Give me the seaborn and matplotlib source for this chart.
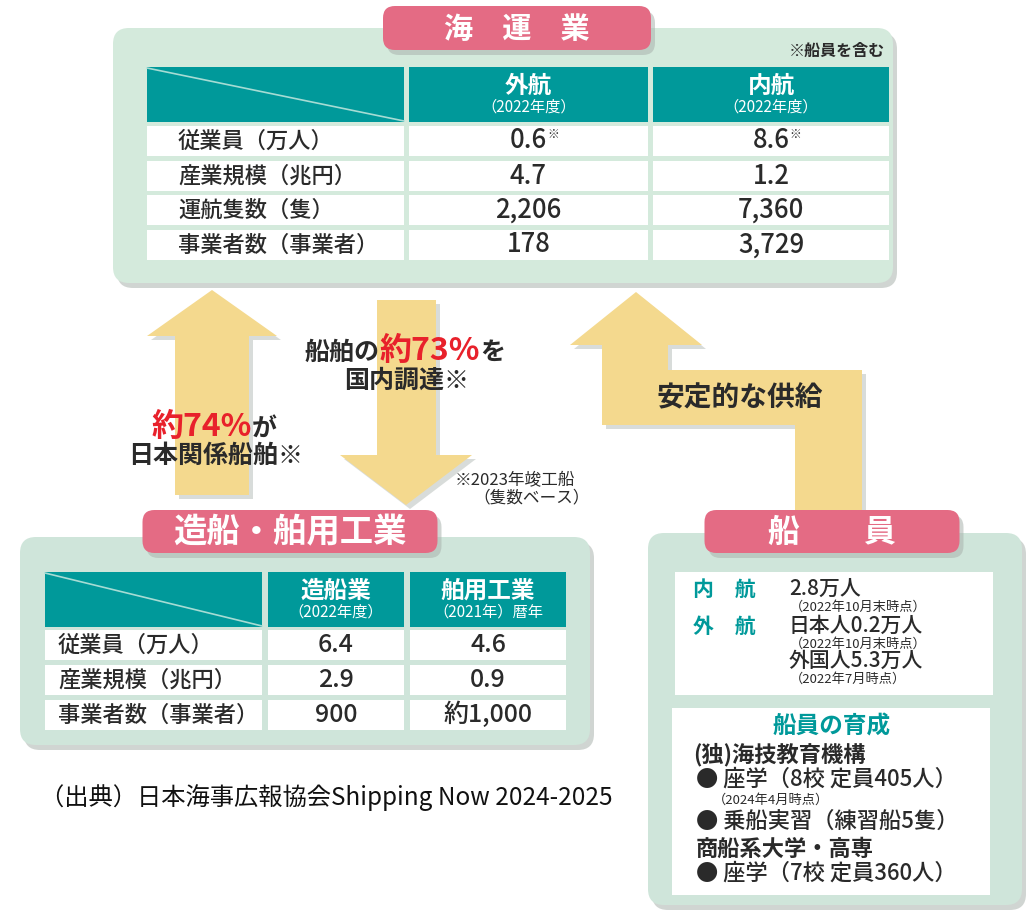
import matplotlib.pyplot as plt
import seaborn as sns
from matplotlib.patches import FancyBboxPatch, Rectangle, Polygon

sns.set_theme(style="white")
plt.rcParams['font.family'] = ['Noto Sans CJK JP', 'DejaVu Sans']

# ---- data -------------------------------------------------------------
kaiun_title = "海　運　業"
kaiun_cols = ["外航", "内航"]
kaiun_col_years = ["（2022年度）", "（2022年度）"]
kaiun_rows = ["従業員（万人）", "産業規模（兆円）", "運航隻数（隻）", "事業者数（事業者）"]
kaiun_gaiko = ["0.6", "4.7", "2,206", "178"]
kaiun_naiko = ["8.6", "1.2", "7,360", "3,729"]
kaiun_marks = ["※", "", "", ""]
kaiun_note = "※船員を含む"

zosen_title = "造船・舶用工業"
zosen_cols = ["造船業", "舶用工業"]
zosen_col_years = ["（2022年度）", "（2021年）暦年"]
zosen_rows = ["従業員（万人）", "産業規模（兆円）", "事業者数（事業者）"]
zosen_zosen = ["6.4", "2.9", "900"]
zosen_hakuyo = ["4.6", "0.9", "約1,000"]

senin_title = "船　　員"
senin_kinds = ["内　航", "外　航", ""]
senin_counts = ["2.8万人", "日本人0.2万人", "外国人5.3万人"]
senin_dates = ["（2022年10月末時点）", "（2022年10月末時点）", "（2022年7月時点）"]
ikusei_title = "船員の育成"
ikusei_lines = ["(独)海技教育機構", "● 座学（8校 定員405人）", "（2024年4月時点）",
                "● 乗船実習（練習船5隻）", "商船系大学・高専", "● 座学（7校 定員360人）"]

flow_73 = [("船舶の", "k"), ("約73%", "r"), ("を", "k")]
flow_73b = "国内調達※"
flow_74 = [("約74%", "r"), ("が", "k")]
flow_74b = "日本関係船舶※"
flow_supply = "安定的な供給"
flow_note = ["※2023年竣工船", "（隻数ベース）"]
source = "（出典）日本海事広報協会Shipping Now 2024-2025"

# ---- style ------------------------------------------------------------
PANEL = "#d4eadc"
PANEL2 = "#cfe5da"
PINK = "#e46b84"
TEAL = "#00999a"
ARROW = "#f4d98e"
SHADOW = "#aab3ae"
INK = "#2a2a2a"
RED = "#e8212b"

W, H = 1032, 911
fig = plt.figure(figsize=(W / 100, H / 100), dpi=100)
ax = fig.add_axes([0, 0, 1, 1])
ax.set_xlim(0, W)
ax.set_ylim(H, 0)
ax.axis('off')
renderer = fig.canvas.get_renderer()


def rbox(x, y, w, h, fc, r=14, z=2, shadow=True):
    if shadow:
        ax.add_patch(FancyBboxPatch((x + 4, y + 5), w, h, boxstyle=f"round,pad=0,rounding_size={r}",
                                    fc=SHADOW, ec='none', alpha=0.55, zorder=z - 0.5))
    ax.add_patch(FancyBboxPatch((x, y), w, h, boxstyle=f"round,pad=0,rounding_size={r}",
                                fc=fc, ec='none', zorder=z))


def label(cx, y, w, h, text, fs):
    rbox(cx - w / 2, y, w, h, PINK, r=12, z=6)
    ax.text(cx, y + h / 2 + 1, text, color='white', fontsize=fs, fontweight='bold',
            ha='center', va='center', zorder=7)


def arrow(points):
    ax.add_patch(Polygon([(x + 4, y + 4) for x, y in points], closed=True, fc=SHADOW,
                         ec='none', alpha=0.45, zorder=2.5))
    ax.add_patch(Polygon(points, closed=True, fc=ARROW, ec='none', zorder=3))


def rich(cx, y, parts, sizes):
    arts = []
    for (txt, c), s in zip(parts, sizes):
        t = ax.text(0, y, txt, color=RED if c == 'r' else INK, fontsize=s, fontweight='bold',
                    ha='left', va='baseline', zorder=8)
        arts.append(t)
    widths = [a.get_window_extent(renderer).width for a in arts]
    x = cx - sum(widths) / 2
    for a, w in zip(arts, widths):
        a.set_x(x)
        x += w


def table(cols, years, rows, vals, marks, col_x, hdr, row_tops, rh, label_x, fs, vfs):
    for x0, x1 in col_x:
        ax.add_patch(Rectangle((x0, hdr[0]), x1 - x0, hdr[1] - hdr[0], fc=TEAL, ec='none', zorder=4))
        for top in row_tops:
            ax.add_patch(Rectangle((x0, top), x1 - x0, rh, fc='white', ec='none', zorder=4))
    ax.plot([col_x[0][0], col_x[0][1]], [hdr[0] + 1, hdr[1] - 1], color="#a6dcd4", lw=1.2, zorder=5)
    for (x0, x1), c, yr in zip(col_x[1:], cols, years):
        cx = (x0 + x1) / 2
        ax.text(cx, hdr[0] + 19, c, color='white', fontsize=17, fontweight='bold',
                ha='center', va='center', zorder=5)
        ax.text(cx, hdr[0] + 40, yr, color='white', fontsize=11, ha='center', va='center', zorder=5)
    for i, (top, r) in enumerate(zip(row_tops, rows)):
        cy = top + rh / 2
        ax.text(label_x, cy, r, color=INK, fontsize=fs, fontweight='medium', ha='left', va='center', zorder=5)
        for (x0, x1), v in zip(col_x[1:], vals):
            cx = (x0 + x1) / 2
            t = ax.text(cx, cy, v[i], color=INK, fontsize=vfs, fontweight='medium',
                        ha='center', va='center', zorder=5)
            if marks and marks[i]:
                w = t.get_window_extent(renderer).width
                ax.text(cx + w / 2, cy - 6, marks[i], color=INK, fontsize=8.5,
                        ha='left', va='center', zorder=5)


# ---- arrows -----------------------------------------------------------
arrow([(212, 290), (277, 336), (249, 336), (249, 495), (175, 495), (175, 336), (147, 336)])
arrow([(377, 300), (436, 300), (436, 455), (472, 455), (406, 505), (340, 455), (377, 455)])
arrow([(636, 292), (702, 345), (668, 345), (668, 370), (862, 370), (862, 512),
       (795, 512), (795, 425), (602, 425), (602, 345), (570, 345)])

rich(405, 360, flow_73, [18, 23, 18])
ax.text(407, 381, flow_73b, color=INK, fontsize=18, fontweight='bold', ha='center', va='center', zorder=8)
rich(214, 436, flow_74, [23, 18])
ax.text(216, 456, flow_74b, color=INK, fontsize=18, fontweight='bold', ha='center', va='center', zorder=8)
ax.text(740, 398, flow_supply, color=INK, fontsize=20, fontweight='bold', ha='center', va='center', zorder=8)
ax.text(455, 481, flow_note[0], color=INK, fontsize=12, ha='left', va='center', zorder=8)
ax.text(532, 498, flow_note[1], color=INK, fontsize=12, ha='center', va='center', zorder=8)

# ---- 海運業 panel ------------------------------------------------------
rbox(113, 28, 780, 255, PANEL, r=16)
label(517, 6, 268, 44, kaiun_title, 21)
ax.text(885, 51, kaiun_note, color=INK, fontsize=11.5, fontweight='bold', ha='right', va='center', zorder=5)
table(kaiun_cols, kaiun_col_years, kaiun_rows, [kaiun_gaiko, kaiun_naiko], kaiun_marks,
      [(147, 404), (409, 648), (653, 889)], (67, 122), [126, 161, 195, 230], 30, 178, 16, 18.5)

# ---- 造船・舶用工業 panel ----------------------------------------------
rbox(20, 537, 570, 208, PANEL2, r=16)
label(290, 510, 295, 43, zosen_title, 24)
table(zosen_cols, zosen_col_years, zosen_rows, [zosen_zosen, zosen_hakuyo], None,
      [(45, 262), (268, 404), (410, 566)], (572, 627), [630, 665, 700], 30, 58, 16, 18)

ax.text(40, 798, source, color="#111111", fontsize=17.5, ha='left', va='center', zorder=5)

# ---- 船員 panel ---------------------------------------------------------
rbox(648, 533, 374, 372, PANEL2, r=16)
label(832, 510, 255, 43, senin_title, 23)
ax.add_patch(Rectangle((675, 572), 318, 123, fc='white', ec='none', zorder=4))
ax.add_patch(Rectangle((672, 708), 318, 187, fc='white', ec='none', zorder=4))

count_y = [589, 626, 661]
for k, c, d, y in zip(senin_kinds, senin_counts, senin_dates, count_y):
    if k:
        ax.text(693, y, k, color=TEAL, fontsize=15, fontweight='bold', ha='left', va='center', zorder=5)
    ax.text(789, y, c, color=INK, fontsize=15, fontweight='medium', ha='left', va='center', zorder=5)
    ax.text(790, y + 18, d, color=INK, fontsize=9.5, ha='left', va='center', zorder=5)

ax.text(832, 727, ikusei_title, color=TEAL, fontsize=17, fontweight='bold', ha='center', va='center', zorder=5)
ik_y = [755, 779, 800, 821, 849, 873]
ik_x = [693, 696, 713, 696, 696, 696]
ik_fs = [16, 16, 9.5, 16, 16, 16]
ik_w = ['bold', 'medium', 'normal', 'medium', 'bold', 'medium']
for t, x, y, s, w in zip(ikusei_lines, ik_x, ik_y, ik_fs, ik_w):
    ax.text(x, y, t, color=INK, fontsize=s, fontweight=w, ha='left', va='center', zorder=5)

fig.savefig("out.png", dpi=100)
